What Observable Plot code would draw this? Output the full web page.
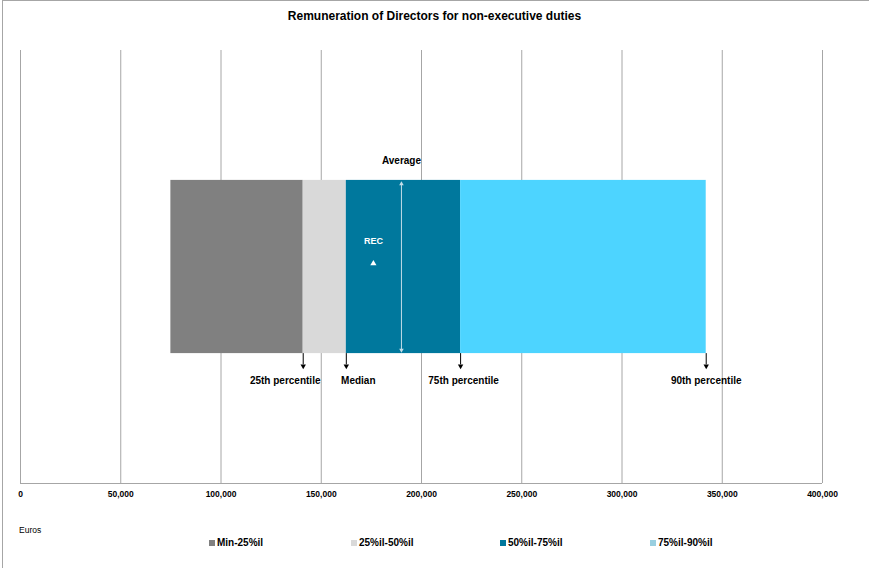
<!DOCTYPE html>
<html>
<head>
<meta charset="utf-8">
<script src="https://cdn.jsdelivr.net/npm/d3@7"></script>
<script src="https://cdn.jsdelivr.net/npm/@observablehq/plot@0.6"></script>
<style>
  html, body { margin: 0; padding: 0; background: #fff; }
  body { width: 869px; height: 568px; overflow: hidden; font-family: 'Liberation Sans', Arial, sans-serif; }
  #frame { position: absolute; left: 2px; top: 0; width: 867px; height: 568px; border-left: 1px solid #a6a6a6; border-top: 1px solid #a6a6a6; box-sizing: border-box; }
  #title { position: absolute; left: 0; top: 8px; width: 869px; text-align: center; font-size: 12px; font-weight: bold; color: #000; line-height: 16px; }
  #chart { position: absolute; left: 0; top: 36px; }
  #units { position: absolute; left: 19px; top: 525px; font-size: 8.5px; color: #000; line-height: 10px; }
  .lg { position: absolute; top: 537px; font-size: 10px; font-weight: bold; color: #000; line-height: 12px; white-space: nowrap; }
  .lg span.sw { display: inline-block; width: 6px; height: 6px; margin-right: 2px; vertical-align: 0px; }
</style>
</head>
<body>
<div id="frame"></div>
<div id="title">Remuneration of Directors for non-executive duties</div>
<div id="chart"></div>
<div id="units">Euros</div>
<div id="legend"></div>
<script>
// ---- data ----
const segments = ["Min-25%il", "25%il-50%il", "50%il-75%il", "75%il-90%il"];
const segStart = [75000, 141000, 162500, 219500];
const segEnd = [141000, 162500, 219500, 342000];
const segColors = ["#808080", "#d9d9d9", "#00789d", "#4dd4ff"];
const legendColors = ["#808080", "#d9d9d9", "#00789d", "#99cfe0"];
const percentileLabels = ["25th percentile", "Median", "75th percentile", "90th percentile"];
const percentileValues = [141000, 162500, 219500, 342000];
const averageValue = [190000];
const recValue = [176000];
const xTicks = [0, 50000, 100000, 150000, 200000, 250000, 300000, 350000, 400000];

// ---- layout constants ----
const labelDx = [-18, 12, 3, 0];
const legendX = [209, 351, 500, 650];
const fmt = d3.format(",");

const marks = [
  Plot.ruleX(xTicks, {x: d => d, y1: 0, y2: 100, stroke: "#a6a6a6", strokeWidth: 1}),
  Plot.ruleY([0], {stroke: "#a6a6a6"}),
  Plot.rectX(segments, {x1: (d, i) => segStart[i], x2: (d, i) => segEnd[i], y1: 30, y2: 70, fill: d => d}),
  // average double arrow
  Plot.ruleX(averageValue, {x: d => d, y1: 30.8, y2: 69.2, stroke: "#c4dde8", strokeWidth: 1}),
  Plot.dot(averageValue, {x: d => d, y: 69.2, symbol: "triangle", r: 1.7, fill: "#c4dde8"}),
  Plot.dot(averageValue, {x: d => d, y: 30.8, symbol: "triangle", rotate: 180, r: 1.7, fill: "#c4dde8"}),
  Plot.text(averageValue, {x: d => d, y: 74.6, text: () => "Average", fontSize: 10, fontWeight: "bold", fill: "#000"}),
  // REC marker
  Plot.text(recValue, {x: d => d, y: 55.9, text: () => "REC", fontSize: 9, fontWeight: "bold", fill: "#fff"}),
  Plot.dot(recValue, {x: d => d, y: 50.8, symbol: "triangle", r: 2.3, fill: "#fff"}),
  // percentile arrows
  Plot.ruleX(percentileValues, {x: d => d, y1: 30, y2: 27.4, stroke: "#000", strokeWidth: 1}),
  Plot.dot(percentileValues, {x: d => d, y: 27.1, symbol: "triangle", rotate: 180, r: 2, fill: "#000"}),
  ...percentileValues.map((v, i) =>
    Plot.text([v], {x: d => d, y: 23.8, text: [percentileLabels[i]], dx: labelDx[i], fontSize: 10, fontWeight: "bold", fill: "#000"})
  )
];

const chart = Plot.plot({
  width: 869,
  height: 470,
  marginLeft: 20,
  marginRight: 47,
  marginTop: 14,
  marginBottom: 23,
  x: {domain: [0, 400000], ticks: xTicks, tickFormat: d => fmt(d), tickSize: 0, tickPadding: 7, label: null},
  y: {domain: [0, 100], axis: null},
  color: {domain: segments, range: segColors},
  style: {fontFamily: "'Liberation Sans', Arial, sans-serif", fontSize: "8.5px", fontWeight: "bold", color: "#000", background: "transparent", overflow: "visible"},
  marks
});
document.getElementById("chart").appendChild(chart);

// legend
const lg = document.getElementById("legend");
segments.forEach((s, i) => {
  const d = document.createElement("div");
  d.className = "lg";
  d.style.left = legendX[i] + "px";
  d.innerHTML = `<span class="sw" style="background:${legendColors[i]}"></span>${s}`;
  lg.appendChild(d);
});
</script>
</body>
</html>
